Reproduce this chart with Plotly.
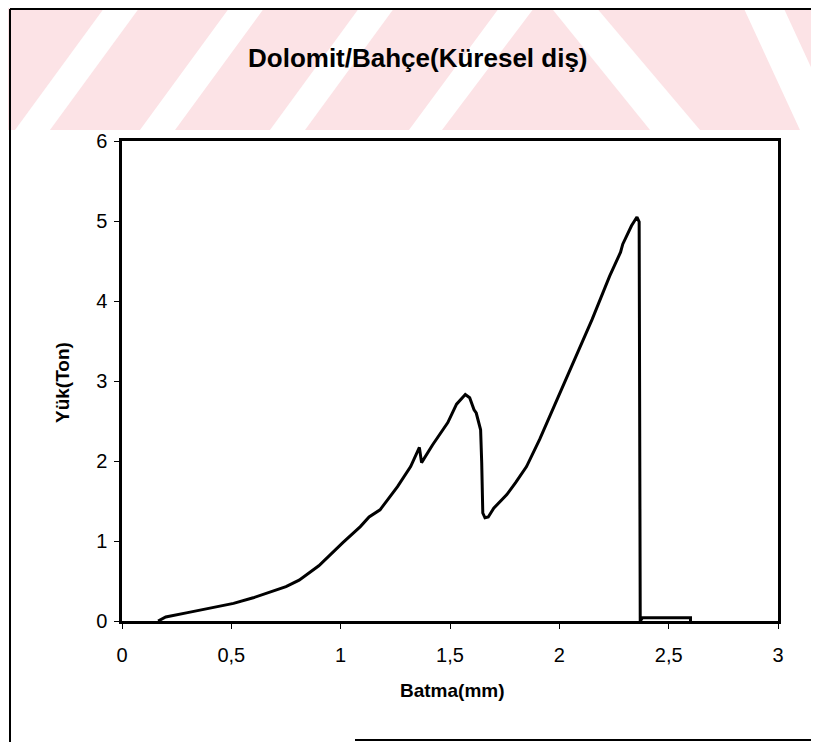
import plotly.graph_objects as go

# load-penetration curve
batma = [0.165, 0.2, 0.3, 0.4, 0.51, 0.6, 0.75, 0.81, 0.9, 1.01, 1.09, 1.13,
         1.18, 1.26, 1.32, 1.36, 1.37, 1.42, 1.49, 1.53, 1.57, 1.59, 1.61,
         1.62, 1.64, 1.645, 1.65, 1.66, 1.675, 1.70, 1.76, 1.80, 1.85, 1.91,
         1.97, 2.03, 2.09, 2.15, 2.23, 2.28, 2.29, 2.33, 2.355, 2.365, 2.37,
         2.38, 2.6, 2.6]
yuk = [0.0, 0.05, 0.105, 0.16, 0.22, 0.29, 0.43, 0.51, 0.69, 0.98, 1.18, 1.30,
       1.39, 1.68, 1.93, 2.17, 1.98, 2.2, 2.48, 2.71, 2.83, 2.79, 2.64,
       2.6, 2.39, 1.98, 1.35, 1.29, 1.30, 1.41, 1.58, 1.73, 1.93, 2.27,
       2.64, 3.02, 3.4, 3.77, 4.31, 4.61, 4.71, 4.94, 5.05, 4.99, 0.0,
       0.04, 0.04, 0.0]

x_ticks = [0, 0.5, 1, 1.5, 2, 2.5, 3]
x_labels = ["0", "0,5", "1", "1,5", "2", "2,5", "3"]
y_ticks = [0, 1, 2, 3, 4, 5, 6]

title = "Dolomit/Bahçe(Küresel diş)"
x_title = "Batma(mm)"
y_title = "Yük(Ton)"

# the page body has an 8px margin, so the figure is a bit smaller
OFF = 8
W, H = 819 - OFF, 742 - OFF
L, R, T, B = 122 - OFF, 41, 141 - OFF, 121
FONT = "Liberation Sans, Arial, sans-serif"


def px(x, y):
    """Convert page pixels (of the screenshot) to paper coordinates."""
    x, y = x - OFF, y - OFF
    return (x - L) / (W - L - R), (H - B - y) / (H - T - B)


def poly(points):
    pts = [px(x, y) for x, y in points]
    return "M " + " L ".join(f"{a:.4f},{b:.4f}" for a, b in pts) + " Z"


shapes = []
# faint pink watermark band across the top of the scan
shapes.append(dict(type="path", xref="paper", yref="paper", layer="below",
                   path=poly([(0, 0), (830, 0), (830, 130), (0, 130)]),
                   fillcolor="#fce3e6", line=dict(width=0)))
stripes = [
    [(15, 130), (50, 130), (145, 0), (110, 0)],
    [(140, 130), (175, 130), (270, 0), (235, 0)],
    [(270, 130), (305, 130), (400, 0), (365, 0)],
    [(409, 130), (442, 130), (540, 0), (505, 0)],
    [(545, 0), (590, 0), (700, 130), (650, 130)],
    [(740, 0), (780, 0), (840, 130), (800, 130)],
]
for s in stripes:
    shapes.append(dict(type="path", xref="paper", yref="paper", layer="below",
                       path=poly(s), fillcolor="white", line=dict(width=0)))

# outer frame of the chart object
frame = [((10, 9), (10, 745)), ((10, 9), (817, 9)), ((817, 9), (817, 745)),
         ((355, 740), (819, 740))]
for (x0, y0), (x1, y1) in frame:
    a0, b0 = px(x0, y0)
    a1, b1 = px(x1, y1)
    shapes.append(dict(type="line", xref="paper", yref="paper",
                       x0=a0, y0=b0, x1=a1, y1=b1,
                       line=dict(color="black", width=2)))

fig = go.Figure()
fig.add_trace(go.Scatter(x=batma, y=yuk, mode="lines",
                         line=dict(color="black", width=3),
                         cliponaxis=False, showlegend=False))

tx, ty = px(418, 58)
xx, xy = px(452, 690)
yx, yy = px(62, 383)
annotations = [
    dict(text=title, x=tx, y=ty, xref="paper", yref="paper",
         showarrow=False, xanchor="center", yanchor="middle",
         font=dict(family=FONT, size=26, color="black", weight="bold")),
    dict(text=x_title, x=xx, y=xy, xref="paper", yref="paper",
         showarrow=False, xanchor="center", yanchor="middle",
         font=dict(family=FONT, size=19, color="black", weight="bold")),
    dict(text=y_title, x=yx, y=yy, xref="paper", yref="paper",
         showarrow=False, xanchor="center", yanchor="middle", textangle=-90,
         font=dict(family=FONT, size=19, color="black", weight="bold")),
]

fig.update_layout(
    width=W, height=H,
    margin=dict(l=L, r=R, t=T, b=B),
    paper_bgcolor="white", plot_bgcolor="white",
    shapes=shapes, annotations=annotations,
    font=dict(family=FONT, color="black"),
)
fig.update_xaxes(range=[0, 3], tickvals=x_ticks, ticktext=x_labels,
                 showgrid=False, zeroline=False,
                 showline=True, mirror=True, linecolor="black", linewidth=2.5,
                 ticks="outside", ticklen=5, tickcolor="black",
                 ticklabelstandoff=9, tickfont=dict(size=20))
fig.update_yaxes(range=[0, 6], tickvals=y_ticks,
                 showgrid=False, zeroline=False,
                 showline=True, mirror=True, linecolor="black", linewidth=2.5,
                 ticks="outside", ticklen=5, tickcolor="black",
                 ticklabelstandoff=3, tickfont=dict(size=20))

fig.write_html("out.html")
